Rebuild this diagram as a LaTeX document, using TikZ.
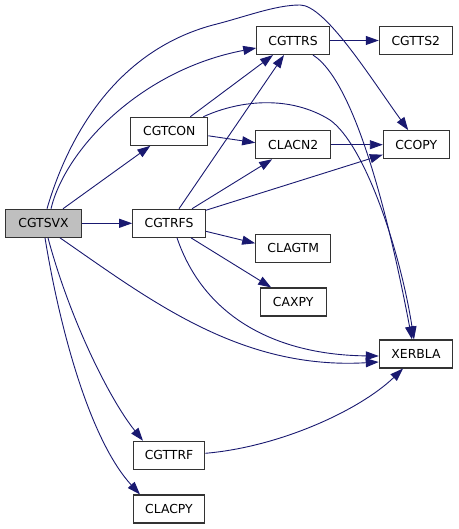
\documentclass[tikz,border=0pt]{standalone}
\usepackage{fontspec}
\setmainfont{DejaVu Sans}
\usetikzlibrary{arrows.meta}
\definecolor{edgeblue}{HTML}{191970}
\definecolor{boxgray}{HTML}{BFBFBF}
\begin{document}
\begin{tikzpicture}[x=1bp,y=-1bp,
  fn/.style={draw=black!80, line width=1.1bp, fill=white, minimum height=28bp, inner sep=0pt,
    font=\fontsize{12.4bp}{14bp}\selectfont},
  call/.style={draw=edgeblue, line width=0.9bp, -{Triangle[length=13bp,width=9bp]}, fill=none}]
\useasboundingbox (0,0) rectangle (459,529);
\node[fn, fill=boxgray, minimum width=76bp] (cgtsvx) at (43.5,223.3) {CGTSVX};
\node[fn, minimum width=77bp] (cgtcon) at (169.3,131.3) {CGTCON};
\node[fn, minimum width=72.5bp] (cgtrfs) at (169,223.3) {CGTRFS};
\node[fn, minimum width=71.5bp] (cgttrf) at (169,455.3) {CGTTRF};
\node[fn, minimum width=71.5bp] (clacpy) at (169,509) {CLACPY};
\node[fn, minimum width=72.5bp] (cgttrs) at (293,40.5) {CGTTRS};
\node[fn, minimum width=73bp] (cgtts2) at (415.8,40.5) {CGTTS2};
\node[fn, minimum width=75bp] (clacn2) at (293.2,144.7) {CLACN2};
\node[fn, minimum width=65.7bp] (ccopy) at (416.2,144.7) {CCOPY};
\node[fn, minimum width=75bp] (clagtm) at (293.2,248.3) {CLAGTM};
\node[fn, minimum width=65.7bp] (caxpy) at (293.2,302) {CAXPY};
\node[fn, minimum width=73.4bp] (xerbla) at (416,354) {XERBLA};
% CGTSVX calls
\draw[call] ([xshift=19.5bp]cgtsvx.north) -- ([xshift=-19bp]cgtcon.south);
\draw[call] (cgtsvx.east) -- (cgtrfs.west);
\draw[call] ([xshift=7.5bp]cgtsvx.north) .. controls (65,150) and (140,70) .. ([yshift=-7.5bp]cgttrs.west);
\draw[call] ([xshift=3.5bp]cgtsvx.north) .. controls (70,130) and (120,50) .. (213,25)
  .. controls (245,17) and (275,5) .. (300,5) .. controls (325,5) and (370,77) .. ([xshift=-8bp]ccopy.north);
\draw[call] ([xshift=16.5bp]cgtsvx.south) .. controls (150,300) and (240,370) .. ([yshift=-8bp]xerbla.west);
\draw[call] ([xshift=4.5bp]cgtsvx.south) .. controls (70,320) and (110,400) .. ([xshift=-26bp]cgttrf.north);
\draw[call] ([xshift=1.5bp]cgtsvx.south) .. controls (60,330) and (90,440) .. ([xshift=-29bp]clacpy.north);
% CGTCON calls
\draw[call] ([xshift=21bp]cgtcon.north) -- ([xshift=-20bp]cgttrs.south);
\draw[call] ([yshift=-4.5bp]cgtcon.east) -- ([yshift=2bp]clacn2.west);
\draw[call] ([xshift=34bp]cgtcon.north) .. controls (240,100) and (290,95) .. (330,120)
  .. controls (365,145) and (400,250) .. ([xshift=-2bp]xerbla.north);
% CGTRFS calls
\draw[call] ([xshift=10bp]cgtrfs.north) -- ([xshift=-9bp]cgttrs.south);
\draw[call] ([xshift=23bp]cgtrfs.north) -- ([xshift=-21bp]clacn2.south);
\draw[call] ([yshift=13bp]cgtrfs.east) -- ([yshift=-10bp]ccopy.west);
\draw[call] ([yshift=-8bp]cgtrfs.east) -- ([yshift=5bp]clagtm.west);
\draw[call] ([xshift=22bp]cgtrfs.south) -- ([xshift=-22bp]caxpy.north);
\draw[call] ([xshift=8bp]cgtrfs.south) .. controls (205,320) and (280,355) .. ([yshift=-2bp]xerbla.west);
% CGTTRS calls
\draw[call] (cgttrs.east) -- (cgtts2.west);
\draw[call] ([xshift=20bp]cgttrs.south) .. controls (360,85) and (395,250) .. ([xshift=-4bp]xerbla.north);
% CLACN2 calls
\draw[call] (clacn2.east) -- (ccopy.west);
% CGTTRF calls
\draw[call] ([yshift=2bp]cgttrf.east) .. controls (280,447) and (360,410) .. ([xshift=-13bp]xerbla.south);
\end{tikzpicture}
\end{document}
